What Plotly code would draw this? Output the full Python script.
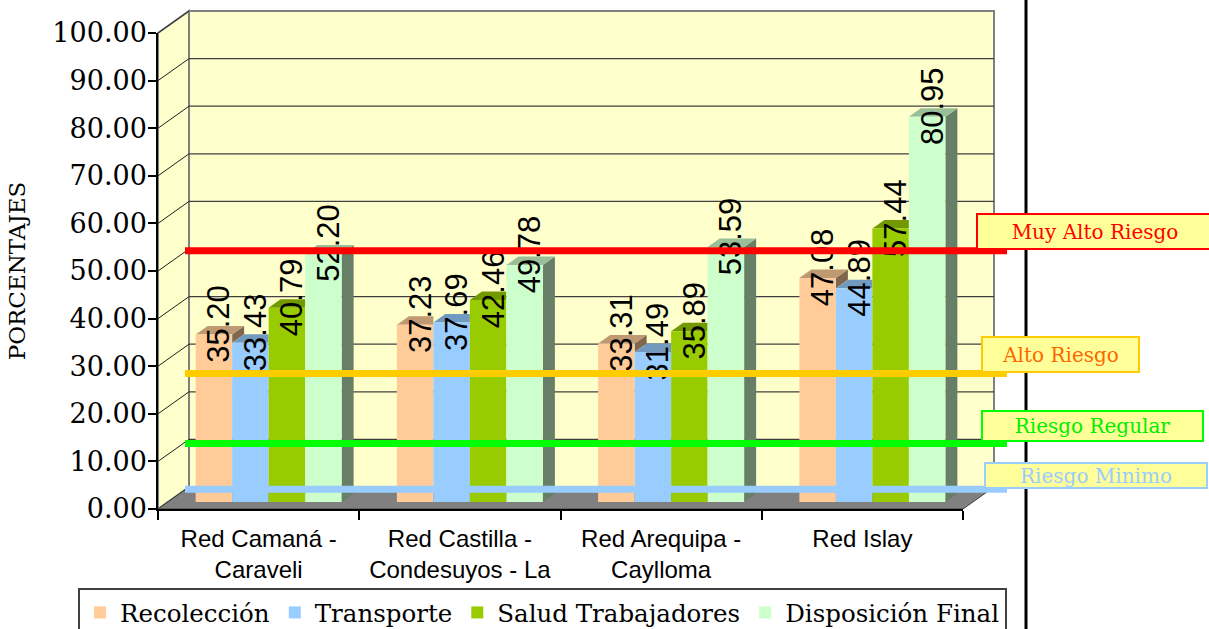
import plotly.graph_objects as go

# ---------------- data ----------------
CATEGORIES = ["Red Camaná -<br>Caraveli",
              "Red Castilla -<br>Condesuyos - La<br>Unión",
              "Red Arequipa -<br>Caylloma",
              "Red Islay"]
SERIES = ["Recolección", "Transporte", "Salud Trabajadores", "Disposición Final"]
RECOLECCION = [35.20, 37.23, 33.31, 47.08]
TRANSPORTE = [33.43, 37.69, 31.49, 44.89]
SALUD = [40.79, 42.46, 35.89, 57.44]
DISPOSICION = [52.20, 49.78, 53.59, 80.95]
Y_TICKS = [0, 10, 20, 30, 40, 50, 60, 70, 80, 90, 100]
RISK_LABELS = ["Muy Alto Riesgo", "Alto Riesgo", "Riesgo Regular", "Riesgo Minimo"]
RISK_LEVELS = [52.8, 27.0, 12.3, 2.7]

# ---------------- styles ----------------
FRONT_COLORS = ["#FFCC99", "#99CCFF", "#99CC00", "#CCFFCC"]
RISK_LINE_COLORS = ["#FF0000", "#FFCC00", "#00FF00", "#99CCFF"]
RISK_TEXT_COLORS = ["#FF0000", "#FF6600", "#00EE00", "#99CCFF"]
RISK_BOXES = [(976, 213, 238, 37), (981, 336, 159, 37), (981, 410, 223, 32), (984, 462, 224, 27)]
WALL = "#FFFFCC"
SERIF = "DejaVu Serif"
SANS = "Liberation Sans"

W, H = 1209, 629


def px(x):
    return x / W


def py(y):
    return 1 - y / H


def shade(hexcol, f):
    r, g, b = int(hexcol[1:3], 16), int(hexcol[3:5], 16), int(hexcol[5:7], 16)
    return "#%02X%02X%02X" % (int(r * f), int(g * f), int(b * f))


# frame geometry (pixels)
FL, FR = 158, 963          # front left / right
F0, F100 = 509, 33         # front y of 0 and 100
DX, DY = 31, 22            # wall depth offset
BDX, BDY = 10, 7           # bar plane offset
NCAT = len(CATEGORIES)
UX = NCAT / (FR - FL)      # x data units per pixel
UY = 100 / (F0 - F100)     # y data units per pixel
BAR_W = 36.5 * UX
FACE_DX = 12 * UX
FACE_DY = 8.5 * UY
TEXT_SHIFT = 5 * UX
TEXT_DY = 2.2

VALUES = [RECOLECCION, TRANSPORTE, SALUD, DISPOSICION]
XIDX = list(range(NCAT))

fig = go.Figure()

# front faces of bars
for j, (name, vals) in enumerate(zip(SERIES, VALUES)):
    fig.add_trace(go.Bar(
        x=XIDX, y=vals, name=name, width=BAR_W, offset=(j - 2) * BAR_W,
        marker=dict(color=FRONT_COLORS[j], line=dict(width=0)),
        xaxis="x", yaxis="y", hoverinfo="skip"))

# value labels (transparent carrier bars)
TW = 0.3
for j, vals in enumerate(VALUES):
    fig.add_trace(go.Bar(
        x=XIDX, y=[30] * NCAT, base=[v + TEXT_DY - 15 for v in vals],
        width=TW, offset=(j - 1.5) * BAR_W + TEXT_SHIFT - TW / 2,
        marker=dict(color="rgba(0,0,0,0)", line=dict(width=0)),
        text=[f"{v:.2f}" for v in vals], textposition="inside",
        insidetextanchor="middle", textangle=-90,
        textfont=dict(family=SANS, size=31, color="black"),
        showlegend=False, hoverinfo="skip", xaxis="x", yaxis="y"))

# dummy trace for front axes
fig.add_trace(go.Scatter(x=CATEGORIES, y=[0] * NCAT, xaxis="x2", yaxis="y2",
                         mode="markers", marker=dict(opacity=0),
                         showlegend=False, hoverinfo="skip"))

shapes = []
# walls and floor (paper coords)
shapes.append(dict(type="path", xref="paper", yref="paper", layer="below",
                   path=f"M{px(FL)},{py(F0)} L{px(FL)},{py(F100)} L{px(FL+DX)},{py(F100-DY)} L{px(FL+DX)},{py(F0-DY)} Z",
                   fillcolor=WALL, line=dict(color="#808080", width=2)))
shapes.append(dict(type="rect", xref="paper", yref="paper", layer="below",
                   x0=px(FL + DX), x1=px(FR + DX), y0=py(F0 - DY), y1=py(F100 - DY),
                   fillcolor=WALL, line=dict(color="#808080", width=2)))
for t in Y_TICKS:
    yf = F0 - t / UY
    yb = yf - DY
    if 0 < t < 100:
        shapes.append(dict(type="line", xref="paper", yref="paper", layer="below",
                           x0=px(FL + DX), x1=px(FR + DX), y0=py(yb), y1=py(yb),
                           line=dict(color="#404040", width=1.2)))
    shapes.append(dict(type="line", xref="paper", yref="paper", layer="below",
                       x0=px(FL), x1=px(FL + DX), y0=py(yf), y1=py(yb),
                       line=dict(color="#202020", width=1)))
shapes.append(dict(type="path", xref="paper", yref="paper", layer="below",
                   path=f"M{px(FL)},{py(F0)} L{px(FR)},{py(F0)} L{px(FR+DX)},{py(F0-DY)} L{px(FL+DX)},{py(F0-DY)} Z",
                   fillcolor="#808080", line=dict(color="#404040", width=1)))

# 3D side and top faces of bars (data coords)
for i in XIDX:
    for j, vals in enumerate(VALUES):
        v = vals[i]
        xl = i + (j - 2) * BAR_W
        xr = xl + BAR_W
        nxt = VALUES[j + 1][i] if j < len(VALUES) - 1 else None
        low = 0 if nxt is None else min(nxt, v)
        if nxt is None or v > nxt:
            shapes.append(dict(type="path", xref="x", yref="y", layer="below",
                               path=f"M{xr},{low} L{xr+FACE_DX},{low+FACE_DY} L{xr+FACE_DX},{v+FACE_DY} L{xr},{v} Z",
                               fillcolor=shade(FRONT_COLORS[j], 0.5), line=dict(width=0)))
        if nxt is not None and nxt > v:
            p = f"M{xl},{v} L{xr},{v} L{xr},{v+FACE_DY} L{xl+FACE_DX},{v+FACE_DY} Z"
        else:
            p = f"M{xl},{v} L{xr},{v} L{xr+FACE_DX},{v+FACE_DY} L{xl+FACE_DX},{v+FACE_DY} Z"
        shapes.append(dict(type="path", xref="x", yref="y", layer="below", path=p,
                           fillcolor=shade(FRONT_COLORS[j], 0.75), line=dict(width=0)))

# vertical separator line
shapes.append(dict(type="line", xref="paper", yref="paper", layer="above",
                   x0=px(1026), x1=px(1026), y0=0, y1=1, line=dict(color="black", width=3)))
# risk level lines
for lvl, col in zip(RISK_LEVELS, RISK_LINE_COLORS):
    shapes.append(dict(type="line", xref="paper", yref="y", layer="above",
                       x0=px(185), x1=px(1007), y0=lvl, y1=lvl,
                       line=dict(color=col, width=7)))

annotations = []
for lab, tcol, bcol, (bx, by, bw, bh) in zip(RISK_LABELS, RISK_TEXT_COLORS, RISK_LINE_COLORS, RISK_BOXES):
    annotations.append(dict(text=lab, xref="paper", yref="paper",
                            x=px(bx), y=py(by), xanchor="left", yanchor="top",
                            width=bw - 4, height=bh - 4, align="center", valign="middle",
                            showarrow=False, bgcolor="#FFFF99", bordercolor=bcol,
                            borderwidth=2, borderpad=0,
                            font=dict(family=SERIF, size=20, color=tcol)))

fig.update_layout(
    width=W, height=H, template="none",
    margin=dict(l=0, r=0, t=0, b=0, autoexpand=False),
    paper_bgcolor="white", plot_bgcolor="rgba(0,0,0,0)",
    barmode="overlay", showlegend=True,
    shapes=shapes, annotations=annotations,
    xaxis=dict(domain=[px(FL + BDX), px(FR + BDX)], range=[-0.5, NCAT - 0.5],
               visible=False, fixedrange=True),
    yaxis=dict(domain=[py(F0 - BDY), py(F100 - BDY)], range=[0, 100],
               visible=False, fixedrange=True),
    xaxis2=dict(domain=[px(FL), px(FR)], anchor="y2", type="category",
                categoryorder="array", categoryarray=CATEGORIES,
                range=[-0.5, NCAT - 0.5], tickson="boundaries", ticks="outside",
                ticklen=9, tickwidth=1.5, tickcolor="black",
                showline=True, linecolor="black", linewidth=1.5,
                showgrid=False, zeroline=False, automargin=False,
                ticklabelstandoff=7, fixedrange=True,
                tickfont=dict(family=SANS, size=24, color="black")),
    yaxis2=dict(domain=[py(F0), py(F100)], anchor="x2", range=[0, 100],
                tickmode="array", tickvals=Y_TICKS, tickformat=".2f",
                ticks="outside", ticklen=8, tickwidth=1.5, tickcolor="black",
                showline=True, linecolor="black", linewidth=1.5,
                showgrid=False, zeroline=False, automargin=False,
                ticklabelstandoff=-4, fixedrange=True,
                tickfont=dict(family=SERIF, size=27, color="black"),
                title=dict(text="PORCENTAJES", standoff=20,
                           font=dict(family=SERIF, size=23, color="black"))),
    legend=dict(orientation="h", x=px(78), y=py(588), xanchor="left", yanchor="top",
                bgcolor="white", bordercolor="#404040", borderwidth=2,
                font=dict(family=SERIF, size=24.5, color="black"),
                itemwidth=30, tracegroupgap=0),
)

fig.write_html("out.html", config={"displayModeBar": False},
               post_script="document.body.style.margin='0';document.body.style.overflow='hidden';")
